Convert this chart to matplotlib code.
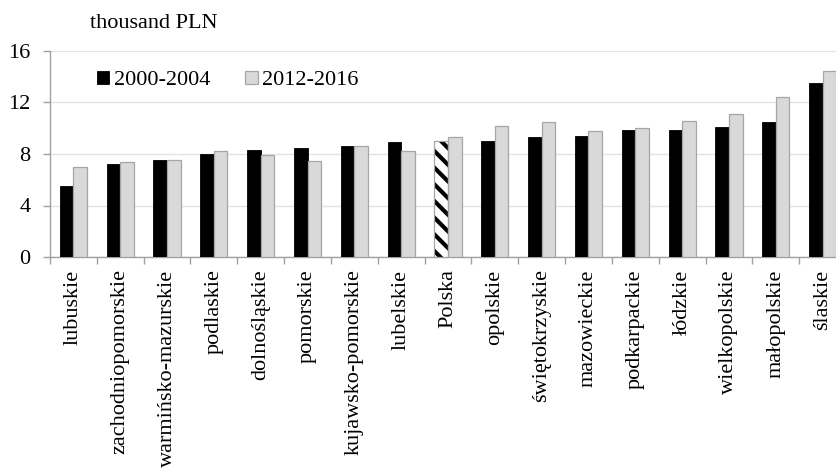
"""
Average values by voivodeship, two periods, grouped bars.
"""

import numpy as np
import matplotlib
matplotlib.use('Agg')
import matplotlib.pyplot as plt

# Data
regions = ['lubuskie', 'zachodniopomorskie', 'warmińsko-mazurskie', 'podlaskie',
           'dolnośląskie', 'pomorskie', 'kujawsko-pomorskie', 'lubelskie', 'Polska',
           'opolskie', 'świętokrzyskie', 'mazowieckie', 'podkarpackie', 'łódzkie',
           'wielkopolskie', 'małopolskie', 'ślaskie']
values_2000_2004 = [5.5, 7.2, 7.5, 8.0, 8.3, 8.5, 8.65, 8.9, 9.0,
                    9.0, 9.35, 9.4, 9.9, 9.9, 10.1, 10.45, 13.5]
values_2012_2016 = [7.0, 7.35, 7.5, 8.25, 7.95, 7.45, 8.65, 8.25, 9.35,
                    10.2, 10.5, 9.8, 10.05, 10.55, 11.1, 12.4, 14.45]
series_labels = ['2000-2004', '2012-2016']
y_ticks = [0, 4, 8, 12, 16]
highlight = 'Polska'

plt.rcParams['font.family'] = ['Liberation Serif', 'DejaVu Serif']
plt.rcParams['hatch.linewidth'] = 3.0
plt.rcParams['hatch.color'] = 'black'

fig = plt.figure(figsize=(8.37, 4.70), dpi=100)
# axes runs past the right edge, like the cropped original
ax = fig.add_axes([50 / 837, 1 - 257 / 470, 796 / 837, 206 / 470])

x = np.arange(len(regions))
w = 0.29
black_colors = ['white' if r == highlight else 'black' for r in regions]
bars_a = ax.bar(x - w / 2, values_2000_2004, width=w, color=black_colors,
                edgecolor='black', linewidth=0.6, zorder=3, label=series_labels[0])
bars_b = ax.bar(x + w / 2, values_2012_2016, width=w, color='#d9d9d9',
                edgecolor='#a6a6a6', linewidth=0.9, zorder=3, label=series_labels[1])

# hatched bar for the country average
i = regions.index(highlight)
bars_a[i].set_hatch('\\\\')
bars_a[i].set_edgecolor('black')
bars_a[i].set_linewidth(0)
ax.bar(x[i] - w / 2, values_2000_2004[i], width=w, fill=False,
       edgecolor='#a6a6a6', linewidth=0.9, zorder=4)

ax.set_xlim(-0.5, len(regions) - 0.5)
ax.set_ylim(0, 16)
ax.set_yticks(y_ticks)
ax.grid(axis='y', color='#e3e3e3', linewidth=1.0, zorder=0)
ax.set_axisbelow(True)

for s in ['top', 'right']:
    ax.spines[s].set_visible(False)
for s in ['left', 'bottom']:
    ax.spines[s].set_color('#a0a0a0')
    ax.spines[s].set_linewidth(1.0)

ax.set_xticks(x)
ax.set_xticklabels(regions, rotation=90, fontsize=16, va='top', ha='center')
ax.set_xticks(np.arange(-0.5, len(regions), 1.0), minor=True)
ax.tick_params(axis='x', which='major', length=0, pad=9)
ax.tick_params(axis='x', which='minor', length=5, color='#a0a0a0', width=1.0)
ax.tick_params(axis='y', length=5, color='#a0a0a0', width=1.0, pad=9, labelsize=16)

ax.legend(handles=[bars_a[0], bars_b[0]], labels=series_labels, ncol=2, frameon=False,
          loc='upper left', bbox_to_anchor=(88 / 837, 1 - 62 / 470),
          bbox_transform=fig.transFigure, fontsize=16, handlelength=0.55,
          handleheight=0.55, handletextpad=0.2, columnspacing=1.6, borderaxespad=0)

fig.text(90 / 837, 1 - 28 / 470, 'thousand PLN', fontsize=16, va='baseline', ha='left')

fig.savefig('out.png', dpi=100)
